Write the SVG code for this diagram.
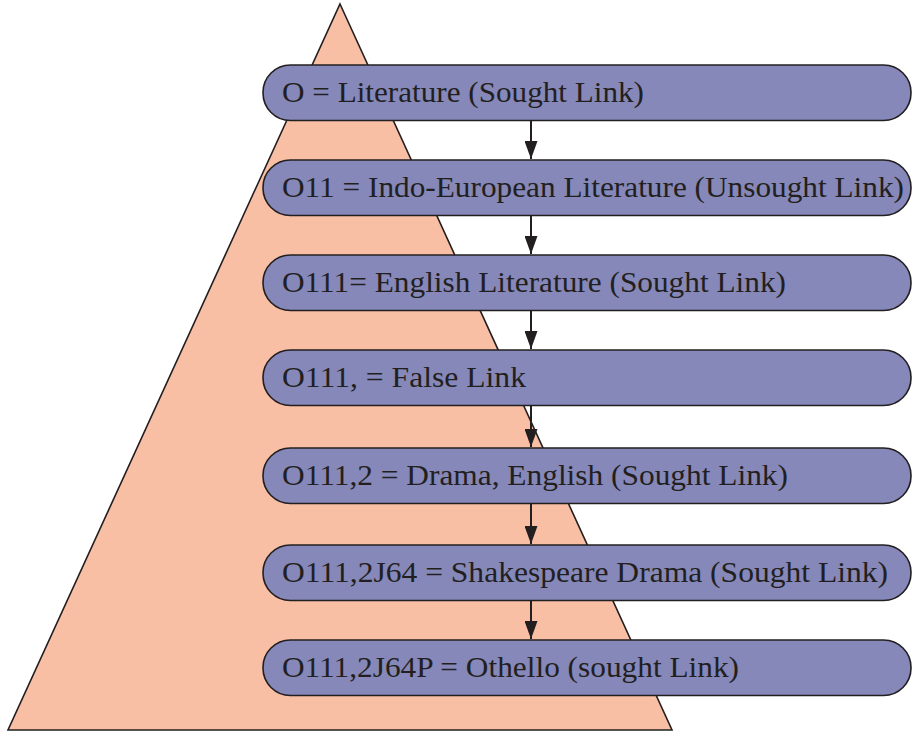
<svg xmlns="http://www.w3.org/2000/svg" width="912" height="735" viewBox="0 0 912 735">
  <style>
    .box { fill: #8588B9; stroke: #231F20; stroke-width: 1.6; }
    .lbl { font-family: 'Liberation Serif', 'DejaVu Serif', 'Times New Roman', serif; font-size: 29px; fill: #231F20; }
    .conn { stroke: #231F20; stroke-width: 2; fill: none; }
  </style>
  <defs>
    <marker id="ah" markerUnits="userSpaceOnUse" markerWidth="18" markerHeight="13" refX="18" refY="6.5" orient="auto" viewBox="0 0 18 13">
      <path d="M0,0 L18,6.5 L0,13 Z" fill="#231F20"/>
    </marker>
  </defs>
  <g id="pyramid">
    <polygon points="340,4 672,730 8,730" fill="#F9BFA5" stroke="#231F20" stroke-width="1.6"/>
  </g>
  <g id="connectors">
    <line class="conn" x1="531" y1="120" x2="531" y2="159" marker-end="url(#ah)"/>
    <line class="conn" x1="531" y1="215" x2="531" y2="254" marker-end="url(#ah)"/>
    <line class="conn" x1="531" y1="310" x2="531" y2="349" marker-end="url(#ah)"/>
    <line class="conn" x1="531" y1="405" x2="531" y2="447" marker-end="url(#ah)"/>
    <line class="conn" x1="531" y1="503" x2="531" y2="544" marker-end="url(#ah)"/>
    <line class="conn" x1="531" y1="600" x2="531" y2="639" marker-end="url(#ah)"/>
  </g>
  <g id="node1">
    <rect class="box" x="263" y="65" width="648" height="55.5" rx="27.5"/>
    <text class="lbl" font-family="Liberation Serif, serif" x="282" y="102" textLength="362" lengthAdjust="spacingAndGlyphs">O = Literature (Sought Link)</text>
  </g>
  <g id="node2">
    <rect class="box" x="263" y="160" width="648" height="55.5" rx="27.5"/>
    <text class="lbl" x="282" y="197" textLength="622" lengthAdjust="spacingAndGlyphs">O11 = Indo-European Literature (Unsought Link)</text>
  </g>
  <g id="node3">
    <rect class="box" x="263" y="255" width="648" height="55.5" rx="27.5"/>
    <text class="lbl" x="282" y="292" textLength="504" lengthAdjust="spacingAndGlyphs">O111= English Literature (Sought Link)</text>
  </g>
  <g id="node4">
    <rect class="box" x="263" y="350" width="648" height="55.5" rx="27.5"/>
    <text class="lbl" x="282" y="387" textLength="244" lengthAdjust="spacingAndGlyphs">O111, = False Link</text>
  </g>
  <g id="node5">
    <rect class="box" x="263" y="448" width="648" height="55.5" rx="27.5"/>
    <text class="lbl" x="282" y="485" textLength="506" lengthAdjust="spacingAndGlyphs">O111,2 = Drama, English (Sought Link)</text>
  </g>
  <g id="node6">
    <rect class="box" x="263" y="545" width="648" height="55.5" rx="27.5"/>
    <text class="lbl" x="282" y="582" textLength="606" lengthAdjust="spacingAndGlyphs">O111,2J64 = Shakespeare Drama (Sought Link)</text>
  </g>
  <g id="node7">
    <rect class="box" x="263" y="640" width="648" height="55.5" rx="27.5"/>
    <text class="lbl" x="282" y="677" textLength="457" lengthAdjust="spacingAndGlyphs">O111,2J64P = Othello (sought Link)</text>
  </g>
</svg>
